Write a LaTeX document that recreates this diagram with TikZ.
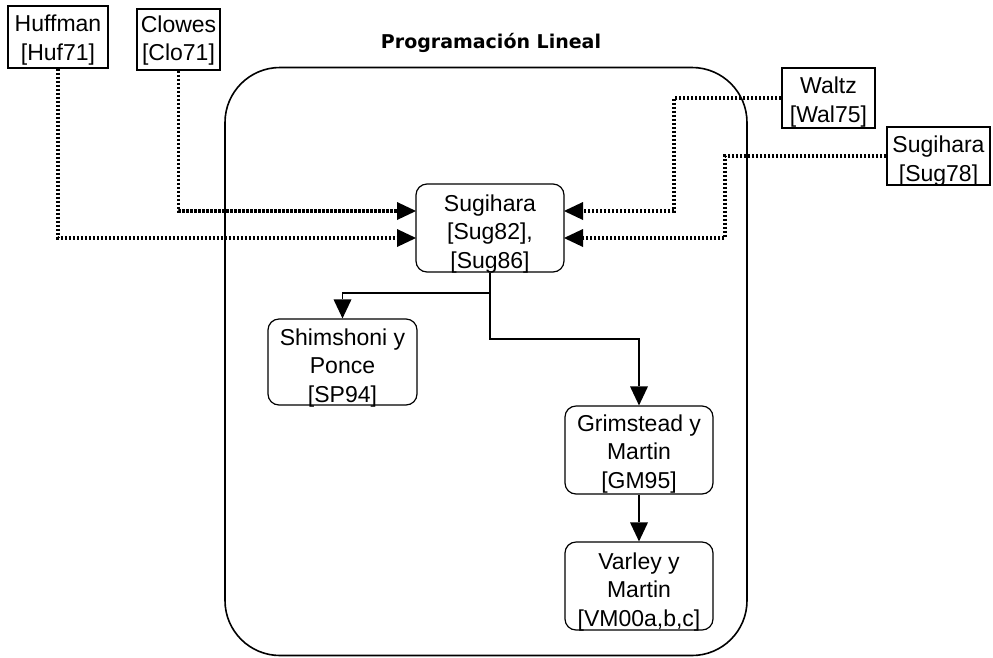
\documentclass[tikz,border=0pt]{standalone}
\usepackage{fontspec}
\setmainfont{Liberation Sans}
\newfontfamily\titlefont{DejaVu Sans}
\usetikzlibrary{arrows.meta}
\begin{document}
\begin{tikzpicture}[x=1pt,y=-1pt,
  sqbox/.style={draw, line width=1.2pt, inner sep=0pt},
  rbox/.style={draw, line width=1.2pt, inner sep=0pt, rounded corners=11pt},
  txt/.style={inner sep=0pt, align=center, font=\fontsize{23}{28.5}\selectfont},
  dotline/.style={line width=3.2pt, dash pattern=on 2.6pt off 1.4pt},
  tipdot/.style={-{Triangle[length=19pt,width=18pt,line width=0pt]}},
  solidline/.style={line width=1.3pt},
  tipsolid/.style={-{Triangle[length=19pt,width=18pt,line width=0pt]}}]
\useasboundingbox (0,0) rectangle (993,657);
% big frame
\node[draw, line width=1.6pt, rounded corners=55pt, minimum width=522pt, minimum height=588pt, inner sep=0pt] (frame) at (486,361.5) {};
\node[inner sep=0pt, font=\titlefont\bfseries\fontsize{19}{22}\selectfont] (title) at (491,43) {Programación Lineal};
% outside boxes
\node[sqbox, minimum width=100pt, minimum height=62pt] (huf) at (58,37) {};
\node[txt] (huft) at (58,40) {Huffman\\{}[Huf71]};
\node[sqbox, minimum width=83pt, minimum height=61pt] (clo) at (178.5,39.5) {};
\node[txt] (clot) at (178.5,40.5) {Clowes\\{}[Clo71]};
\node[sqbox, minimum width=93pt, minimum height=60pt] (wal) at (828.5,98) {};
\node[txt] (walt) at (828.5,102) {Waltz\\{}[Wal75]};
\node[sqbox, minimum width=103pt, minimum height=58pt] (s78) at (938.5,156) {};
\node[txt] (s78t) at (938.5,161) {Sugihara\\{}[Sug78]};
% inner boxes
\node[rbox, minimum width=148pt, minimum height=88pt] (sug) at (490,228) {};
\node[txt] (sugt) at (490,234) {Sugihara\\{}[Sug82],\\{}[Sug86]};
\node[rbox, minimum width=149pt, minimum height=86pt] (shim) at (342.5,362) {};
\node[txt] (shimt) at (342.5,368) {Shimshoni y\\Ponce\\{}[SP94]};
\node[rbox, minimum width=148pt, minimum height=88pt] (grim) at (639,450) {};
\node[txt] (grimt) at (639,454) {Grimstead y\\Martin\\{}[GM95]};
\node[rbox, minimum width=148pt, minimum height=88pt] (var) at (639,586) {};
\node[txt] (vart) at (639,592) {Varley y\\Martin\\{}[VM00a,b,c]};
% coordinates
\coordinate (sugW1) at (416,211);
\coordinate (sugW2) at (416,238);
\coordinate (sugE1) at (564,211);
\coordinate (sugE2) at (564,238);
\coordinate (split1) at (490,293);
% dotted connectors
\draw[dotline, tipdot] (huf.south) |- (sugW2);
\draw[dotline, tipdot] (clo.south) |- (sugW1);
\draw[dotline, tipdot] (wal.west) -- (674,98) |- (sugE1);
\draw[dotline, tipdot] (s78.west) -- (725,156) |- (sugE2);
% solid connectors
\draw[solidline, tipsolid] (sug.south) -- (split1) -| (shim.north);
\draw[solidline, tipsolid] (split1) -- (490,339) -| (grim.north);
\draw[solidline, tipsolid] (grim.south) -- (var.north);
\end{tikzpicture}
\end{document}
